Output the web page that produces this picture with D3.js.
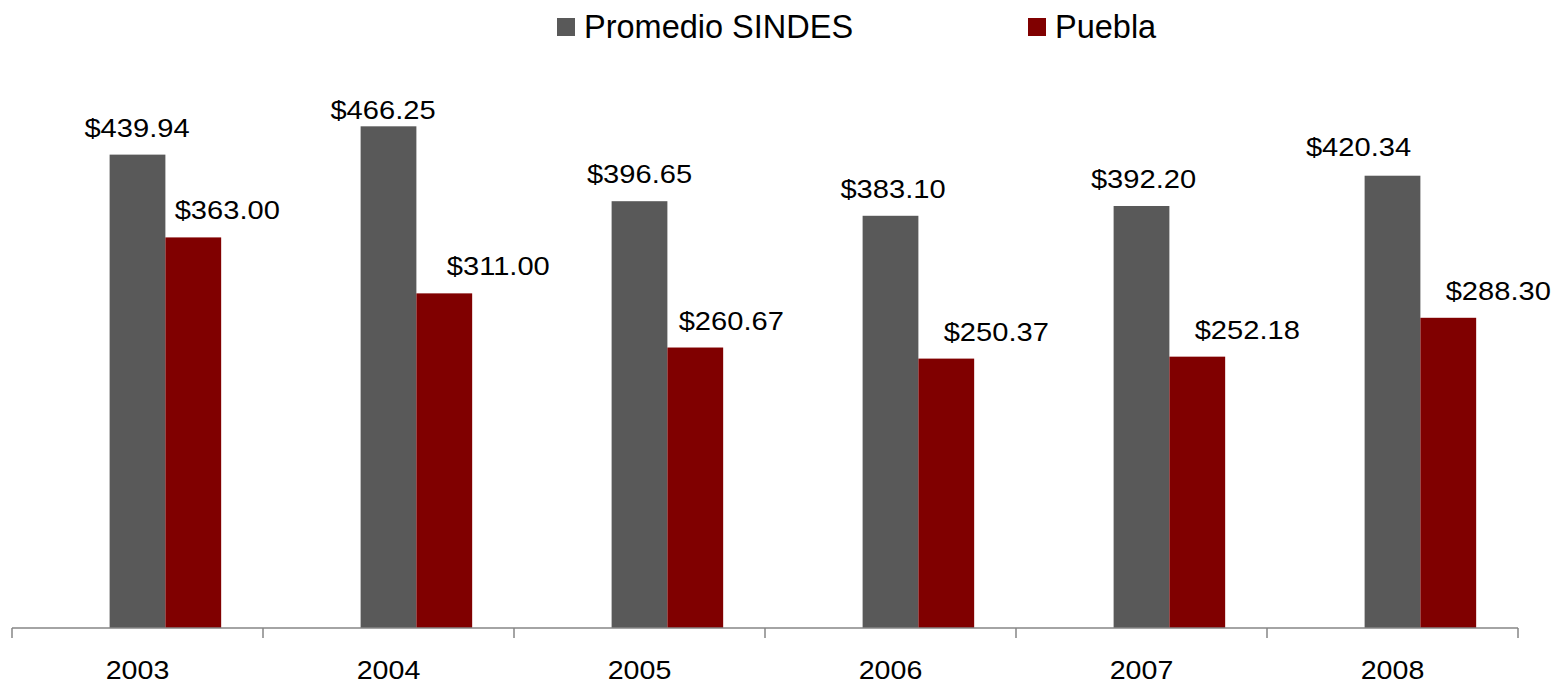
<!DOCTYPE html>
<html>
<head>
<meta charset="utf-8">
<script src="https://cdn.jsdelivr.net/npm/d3@7"></script>
<style>
  html, body { margin: 0; padding: 0; background: #ffffff; }
  svg { display: block; }
  text { font-family: "Liberation Sans", Arial, sans-serif; fill: #000; }
</style>
</head>
<body>
<svg id="chart" width="1558" height="685"></svg>
<script>
// ---- data ----
const years = ["2003", "2004", "2005", "2006", "2007", "2008"];
const seriesNames = ["Promedio SINDES", "Puebla"];
const promedioSindes = [439.94, 466.25, 396.65, 383.10, 392.20, 420.34];
const puebla = [363.00, 311.00, 260.67, 250.37, 252.18, 288.30];
const seriesColors = ["#595959", "#800000"];

// manual label nudges seen in the reference (px, relative to default placement)
const labelNudgeX = [[-0.5, -5.5, 0, 2.5, 2, -34], [34, 54, 36, 50, 50, 50]];
const labelNudgeY = [[0, 11, 0, 0, 0, -2], [0, 0, 0, 0, 0, 0]];

const seriesValues = [promedioSindes, puebla];
const fmt = v => "$" + d3.format(".2f")(v);

const svg = d3.select("#chart");
const W = 1558, H = 685;
const baseY = 628, topY = 90, left = 12, right = 1518;

const x = d3.scaleBand().domain(years).range([left, right]).paddingInner(0).paddingOuter(0);
// three slots per category: the first one is empty in the original chart
const slots = ["_empty", ...seriesNames];
const xs = d3.scaleBand().domain(slots).range([0, x.bandwidth()]).paddingInner(0).paddingOuter(0.75);
const y = d3.scaleLinear().domain([0, 500]).range([baseY, topY]);

// bars
const groups = svg.append("g").selectAll("g")
  .data(seriesNames.map((name, si) => ({ name, si })))
  .join("g")
  .attr("fill", d => seriesColors[d.si]);

groups.selectAll("rect")
  .data(d => years.map((yr, i) => ({ yr, i, si: d.si, name: d.name, v: seriesValues[d.si][i] })))
  .join("rect")
  .attr("x", d => x(d.yr) + xs(d.name))
  .attr("width", xs.bandwidth())
  .attr("y", d => y(d.v))
  .attr("height", d => baseY - y(d.v));

// data labels
const labels = svg.append("g");
seriesNames.forEach((name, si) => {
  labels.selectAll(null)
    .data(years.map((yr, i) => ({ yr, i, v: seriesValues[si][i] })))
    .join("text")
    .attr("text-anchor", "middle")
    .attr("font-size", 26)
    .attr("transform", d => {
      const cx = x(d.yr) + xs(name) + xs.bandwidth() / 2 + labelNudgeX[si][d.i];
      const cy = y(d.v) - 18 + labelNudgeY[si][d.i];
      return `translate(${cx},${cy}) scale(1.12,1)`;
    })
    .text(d => fmt(d.v));
});

// axis
const axisColor = "#868686";
const axisG = svg.append("g").attr("transform", `translate(0,${baseY})`);
axisG.call(d3.axisBottom(x).tickSize(0).tickFormat(() => ""));
axisG.select(".domain").attr("stroke", axisColor).attr("stroke-width", 1.5).attr("d", `M${left},0H${right}`);
const boundaries = years.map(yr => x(yr)).concat([x(years[years.length - 1]) + x.bandwidth()]);
axisG.selectAll("line.bound")
  .data(boundaries)
  .join("line")
  .attr("class", "bound")
  .attr("x1", d => d).attr("x2", d => d)
  .attr("y1", 0).attr("y2", 10)
  .attr("stroke", axisColor).attr("stroke-width", 1.5);

svg.append("g").selectAll("text")
  .data(years)
  .join("text")
  .attr("text-anchor", "middle")
  .attr("font-size", 26)
  .attr("transform", d => `translate(${x(d) + x.bandwidth() / 2},679) scale(1.1,1)`)
  .text(d => d);

// legend
const legendX = [557, 1028];
const legend = svg.append("g");
seriesNames.forEach((name, si) => {
  legend.append("rect")
    .attr("x", legendX[si]).attr("y", 18)
    .attr("width", 18).attr("height", 18)
    .attr("fill", seriesColors[si]);
  legend.append("text")
    .attr("x", legendX[si] + 27).attr("y", 38)
    .attr("font-size", 32.5)
    .text(name);
});
</script>
</body>
</html>
